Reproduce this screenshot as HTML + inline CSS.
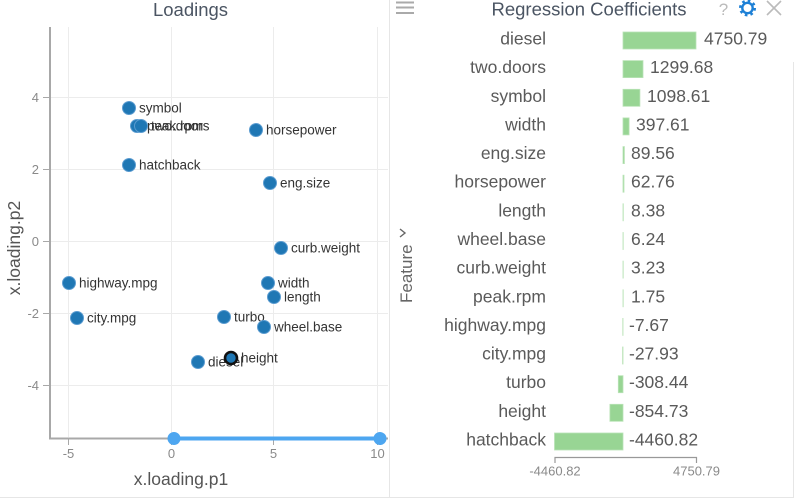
<!DOCTYPE html>
<html>
<head>
<meta charset="utf-8">
<style>
html,body{margin:0;padding:0;background:#fff;}
body{width:800px;height:500px;overflow:hidden;}
svg{display:block;font-family:"Liberation Sans",sans-serif;}
</style>
</head>
<body>
<svg width="800" height="500" viewBox="0 0 800 500" xmlns="http://www.w3.org/2000/svg">
  <rect width="800" height="500" fill="#fff"/>
  <!-- panel frames -->
  <line x1="389.5" y1="0" x2="389.5" y2="498" stroke="#e6e6e6" stroke-width="1"/>
  <line x1="0" y1="497.5" x2="793" y2="497.5" stroke="#e6e6e6" stroke-width="1"/>
  <line x1="793.5" y1="62" x2="793.5" y2="498" stroke="#e6e6e6" stroke-width="1"/>

  <!-- ===== LEFT: Loadings ===== -->
  <text x="190.5" y="16" text-anchor="middle" font-size="18.5" fill="#4b5563">Loadings</text>

  <!-- grid -->
  <g stroke="#ececec" stroke-width="1">
    <line x1="68.5" y1="27" x2="68.5" y2="437"/>
    <line x1="171.5" y1="27" x2="171.5" y2="437"/>
    <line x1="273.5" y1="27" x2="273.5" y2="437"/>
    <line x1="377.5" y1="27" x2="377.5" y2="437"/>
    <line x1="51" y1="97.5" x2="388" y2="97.5"/>
    <line x1="51" y1="169.5" x2="388" y2="169.5"/>
    <line x1="51" y1="241.5" x2="388" y2="241.5"/>
    <line x1="51" y1="313.5" x2="388" y2="313.5"/>
    <line x1="51" y1="385.5" x2="388" y2="385.5"/>
  </g>

  <!-- axes -->
  <line x1="50" y1="27" x2="50" y2="439" stroke="#a8a8a8" stroke-width="2"/>
  <line x1="49" y1="438.5" x2="388" y2="438.5" stroke="#a8a8a8" stroke-width="2"/>
  <g stroke="#a8a8a8" stroke-width="1">
    <line x1="43" y1="97.5" x2="50" y2="97.5"/>
    <line x1="43" y1="169.5" x2="50" y2="169.5"/>
    <line x1="43" y1="241.5" x2="50" y2="241.5"/>
    <line x1="43" y1="313.5" x2="50" y2="313.5"/>
    <line x1="43" y1="385.5" x2="50" y2="385.5"/>
    <line x1="68.5" y1="439" x2="68.5" y2="445"/>
    <line x1="171.5" y1="439" x2="171.5" y2="445"/>
    <line x1="273.5" y1="439" x2="273.5" y2="445"/>
    <line x1="377.5" y1="439" x2="377.5" y2="445"/>
  </g>
  <g font-size="13" fill="#8a8a8a">
    <text x="39" y="102" text-anchor="end">4</text>
    <text x="39" y="174" text-anchor="end">2</text>
    <text x="39" y="246" text-anchor="end">0</text>
    <text x="39" y="318" text-anchor="end">-2</text>
    <text x="39" y="390" text-anchor="end">-4</text>
    <text x="68.5" y="458" text-anchor="middle">-5</text>
    <text x="171.5" y="458" text-anchor="middle">0</text>
    <text x="273.5" y="458" text-anchor="middle">5</text>
    <text x="377.5" y="458" text-anchor="middle">10</text>
  </g>
  <text x="181" y="485" text-anchor="middle" font-size="17.5" fill="#555">x.loading.p1</text>
  <text transform="translate(20,248) rotate(-90)" text-anchor="middle" font-size="17.5" fill="#555">x.loading.p2</text>

  <!-- point labels -->
  <g font-size="13.5" fill="#333">
    <text x="139" y="112.5">symbol</text>
    <text x="151" y="130.5">two.doors</text>
    <text x="147" y="130.5">peak.rpm</text>
    <text x="266" y="134.5">horsepower</text>
    <text x="139" y="169.5">hatchback</text>
    <text x="280" y="187.5">eng.size</text>
    <text x="291" y="252.5">curb.weight</text>
    <text x="79" y="287.5">highway.mpg</text>
    <text x="278" y="287.5">width</text>
    <text x="284" y="301.5">length</text>
    <text x="87" y="322.5">city.mpg</text>
    <text x="234" y="321.5">turbo</text>
    <text x="274" y="331.5">wheel.base</text>
    <text x="208" y="366.5">diesel</text>
    <text x="241" y="362.5">height</text>
  </g>
  <!-- points -->
  <g fill="#1f77b4" stroke="#5a9bd0" stroke-width="1">
    <circle cx="129" cy="108" r="6.5"/>
    <circle cx="137" cy="126" r="6.5"/>
    <circle cx="141" cy="126" r="6.5"/>
    <circle cx="256" cy="130" r="6.5"/>
    <circle cx="129" cy="165" r="6.5"/>
    <circle cx="270" cy="183" r="6.5"/>
    <circle cx="281" cy="248" r="6.5"/>
    <circle cx="69" cy="283" r="6.5"/>
    <circle cx="268" cy="283" r="6.5"/>
    <circle cx="274" cy="297" r="6.5"/>
    <circle cx="77" cy="318" r="6.5"/>
    <circle cx="224" cy="317" r="6.5"/>
    <circle cx="264" cy="327" r="6.5"/>
    <circle cx="198" cy="362" r="6.5"/>
  </g>
  <circle cx="231" cy="358" r="6" fill="#1f77b4" stroke="#111" stroke-width="2.6"/>

  <!-- slider -->
  <line x1="174" y1="438.5" x2="380" y2="438.5" stroke="#4da6f0" stroke-width="4"/>
  <circle cx="174" cy="438.5" r="6.5" fill="#4da6f0"/>
  <circle cx="380" cy="438.5" r="6.5" fill="#4da6f0"/>

  <!-- ===== RIGHT: Regression Coefficients ===== -->
  <g stroke="#aaa" stroke-width="2">
    <line x1="396" y1="2.5" x2="414" y2="2.5"/>
    <line x1="396" y1="7.5" x2="414" y2="7.5"/>
    <line x1="396" y1="13" x2="414" y2="13"/>
  </g>
  <text x="589" y="15.5" text-anchor="middle" font-size="18.5" fill="#4b5563">Regression Coefficients</text>
  <text x="723.5" y="15" text-anchor="middle" font-size="17" fill="#bbb">?</text>
  <!-- gear -->
  <g transform="translate(747.5,8)">
    <circle r="7.2" fill="none" stroke="#1e80d6" stroke-width="2.6" stroke-dasharray="2.6 3.05"/>
    <circle r="5.2" fill="none" stroke="#1e80d6" stroke-width="2.4"/>
  </g>
  <g stroke="#bbb" stroke-width="1.6">
    <line x1="767" y1="1" x2="781" y2="15"/>
    <line x1="781" y1="1" x2="767" y2="15"/>
  </g>

  <!-- Feature axis title -->
  <text transform="translate(412,303) rotate(-90)" font-size="17" fill="#666">Feature</text>
  <path d="M400,229 L405,233 L400,237" fill="none" stroke="#666" stroke-width="1.4"/>

  <!-- bars -->
  <g fill="#98d594" stroke="#b9e3b6" stroke-width="0.8">
    <rect x="623" y="32" width="73" height="17"/>
    <rect x="623" y="60.6" width="20" height="17"/>
    <rect x="623" y="89.3" width="16.9" height="17"/>
    <rect x="623" y="117.9" width="6.1" height="17"/>
    <rect x="623" y="146.6" width="1.4" height="17"/>
    <rect x="623" y="175.2" width="1" height="17"/>
    <rect x="623" y="203.8" width="0.3" height="17"/>
    <rect x="623" y="232.5" width="0.2" height="17"/>
    <rect x="623" y="261.1" width="0.2" height="17"/>
    <rect x="623" y="289.8" width="0.2" height="17"/>
    <rect x="622.8" y="318.4" width="0.2" height="17"/>
    <rect x="622.6" y="347" width="0.4" height="17"/>
    <rect x="618.3" y="375.7" width="4.7" height="17"/>
    <rect x="609.9" y="404.3" width="13.1" height="17"/>
    <rect x="554.5" y="433" width="68.5" height="17"/>
  </g>

  <!-- feature labels -->
  <g font-size="17.5" fill="#5a5a5a" text-anchor="end">
    <text x="546" y="44.5">diesel</text>
    <text x="546" y="73.1">two.doors</text>
    <text x="546" y="101.8">symbol</text>
    <text x="546" y="130.4">width</text>
    <text x="546" y="159.1">eng.size</text>
    <text x="546" y="187.7">horsepower</text>
    <text x="546" y="216.3">length</text>
    <text x="546" y="245">wheel.base</text>
    <text x="546" y="273.6">curb.weight</text>
    <text x="546" y="302.3">peak.rpm</text>
    <text x="546" y="330.9">highway.mpg</text>
    <text x="546" y="359.5">city.mpg</text>
    <text x="546" y="388.2">turbo</text>
    <text x="546" y="416.8">height</text>
    <text x="546" y="445.5">hatchback</text>
  </g>
  <!-- value labels -->
  <g font-size="17.5" fill="#5a5a5a">
    <text x="704" y="44.5">4750.79</text>
    <text x="650" y="73.1">1299.68</text>
    <text x="647" y="101.8">1098.61</text>
    <text x="636" y="130.4">397.61</text>
    <text x="631" y="159.1">89.56</text>
    <text x="631" y="187.7">62.76</text>
    <text x="631" y="216.3">8.38</text>
    <text x="631" y="245">6.24</text>
    <text x="631" y="273.6">3.23</text>
    <text x="631" y="302.3">1.75</text>
    <text x="629" y="330.9">-7.67</text>
    <text x="629" y="359.5">-27.93</text>
    <text x="629" y="388.2">-308.44</text>
    <text x="629" y="416.8">-854.73</text>
    <text x="629" y="445.5">-4460.82</text>
  </g>

  <!-- bar axis -->
  <g stroke="#999" stroke-width="1.2" fill="none">
    <path d="M555,463 L555,457.5 L696.5,457.5 L696.5,463"/>
  </g>
  <g font-size="13" fill="#8a8a8a" text-anchor="middle">
    <text x="555" y="475.5">-4460.82</text>
    <text x="696.5" y="475.5">4750.79</text>
  </g>
</svg>
</body>
</html>
